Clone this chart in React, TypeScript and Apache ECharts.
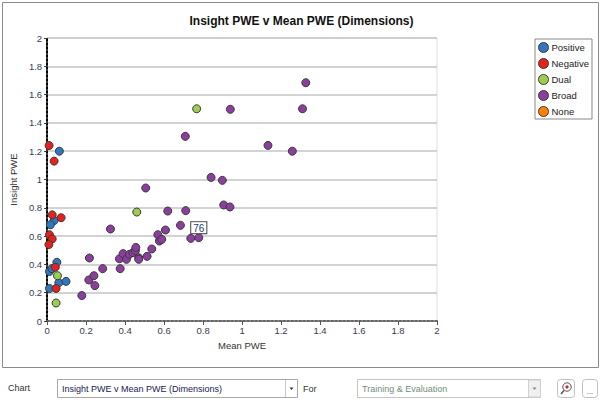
import React, { useEffect, useRef } from "react";
import * as echarts from "echarts";

const chartTitle = "Insight PWE v Mean PWE (Dimensions)";
const xAxisName = "Mean PWE";
const yAxisName = "Insight PWE";
const categories = ["Positive", "Negative", "Dual", "Broad", "None"];
const categoryColors = ["#2f78c0", "#e8201c", "#9ccc50", "#8c3e9e", "#ff8000"];

const positive: [number, number][] = [
  [0.063, 1.2], [0.036, 0.71], [0.017, 0.68], [0.05, 0.415], [0.012, 0.35],
  [0.025, 0.37], [0.06, 0.27], [0.097, 0.28], [0.012, 0.23],
];
const negative: [number, number][] = [
  [0.01, 1.24], [0.036, 1.13], [0.026, 0.75], [0.072, 0.73], [0.012, 0.61],
  [0.026, 0.58], [0.009, 0.54], [0.042, 0.38], [0.046, 0.23],
];
const dual: [number, number][] = [
  [0.053, 0.32], [0.046, 0.127], [0.46, 0.77], [0.767, 1.5],
];
const broad: [number, number][] = [
  [0.178, 0.18], [0.217, 0.445], [0.214, 0.29], [0.24, 0.32], [0.245, 0.25],
  [0.285, 0.37], [0.325, 0.65], [0.371, 0.44], [0.375, 0.37], [0.39, 0.476],
  [0.407, 0.436], [0.422, 0.471], [0.44, 0.483], [0.453, 0.497], [0.455, 0.52],
  [0.47, 0.447], [0.47, 0.436], [0.513, 0.457], [0.537, 0.509], [0.506, 0.94],
  [0.568, 0.61], [0.576, 0.565], [0.588, 0.577], [0.607, 0.643], [0.619, 0.777],
  [0.684, 0.676], [0.711, 0.78], [0.737, 0.584], [0.778, 0.589], [0.709, 1.305],
  [0.841, 1.015], [0.899, 0.994], [0.906, 0.82], [0.938, 0.806], [0.94, 1.496],
  [1.133, 1.241], [1.258, 1.2], [1.31, 1.5], [1.327, 1.684],
];
const none: [number, number][] = [];

const labelledPoint: [number, number] = [0.778, 0.589];
const labelledText = "76";

const chartSelectText = "Insight PWE v Mean PWE (Dimensions)";
const forSelectText = "Training & Evaluation";

const FONT = "Arial, 'Liberation Sans', sans-serif";

export default function App() {
  const ref = useRef<HTMLDivElement>(null);

  useEffect(() => {
    if (!ref.current) return;
    const chart = echarts.init(ref.current, undefined, { renderer: "svg" });
    const seriesData = [positive, negative, dual, broad, none];

    const series = categories.map((name, i) => ({
      name,
      type: "scatter",
      symbol: "circle",
      symbolSize: 8,
      itemStyle: { color: categoryColors[i], borderColor: "#3a3a3a", borderWidth: 1, opacity: 1 },
      data: seriesData[i].map((p) => {
        if (p[0] === labelledPoint[0] && p[1] === labelledPoint[1]) {
          return {
            value: p,
            label: {
              show: true,
              position: "top",
              distance: 0,
              formatter: labelledText,
              backgroundColor: "#fff",
              borderColor: "#444",
              borderWidth: 1,
              padding: [1, 2, 0, 2],
              fontSize: 10,
              fontFamily: FONT,
              color: "#1c3a70",
            },
          };
        }
        return p;
      }),
    }));

    const legendTop = 39;
    const rowH = 15;
    const sepLines = [1, 2, 3, 4].map((k) => ({
      type: "line",
      silent: true,
      shape: { x1: 535, y1: legendTop + rowH * k - 0.5, x2: 588, y2: legendTop + rowH * k - 0.5 },
      style: { stroke: "#9a9a9a", lineWidth: 1 },
    }));

    const option: any = {
      animation: false,
      backgroundColor: "#fff",
      title: {
        text: chartTitle,
        left: "center",
        top: 10,
        textStyle: { fontSize: 12, fontWeight: "bold", fontFamily: FONT, color: "#111" },
      },
      legend: {
        orient: "vertical",
        left: 535,
        top: legendTop,
        width: 53,
        padding: [3, 3, 2, 3],
        itemGap: 5,
        itemWidth: 10,
        itemHeight: 10,
        icon: "circle",
        backgroundColor: "#fff",
        borderColor: "#888",
        borderWidth: 1,
        textStyle: { fontSize: 9.5, fontFamily: FONT, color: "#222", padding: [0, 0, 0, -2] },
        data: categories,
        itemStyle: { borderColor: "#3a3a3a", borderWidth: 1 },
      },
      grid: {
        left: 47,
        top: 38,
        width: 390,
        height: 283,
        show: true,
        borderColor: "#dcdcdc",
        borderWidth: 1,
        backgroundColor: "transparent",
      },
      xAxis: {
        type: "value",
        min: 0,
        max: 2,
        interval: 0.2,
        name: xAxisName,
        nameLocation: "middle",
        nameGap: 19,
        nameTextStyle: { fontSize: 9.5, fontFamily: FONT, color: "#333" },
        axisLine: { show: true, lineStyle: { color: "#666", width: 2, type: "dotted" } },
        axisTick: { show: true, length: 4, lineStyle: { color: "#555", width: 1 } },
        axisLabel: { fontSize: 9.5, fontFamily: FONT, color: "#3a3a55", margin: 4 },
        splitLine: { show: false },
      },
      yAxis: {
        type: "value",
        min: 0,
        max: 2,
        interval: 0.2,
        name: yAxisName,
        nameLocation: "middle",
        nameGap: 23,
        nameTextStyle: { fontSize: 9.5, fontFamily: FONT, color: "#333" },
        axisLine: { show: true, lineStyle: { color: "#000", width: 2, type: "dotted" } },
        axisTick: { show: true, length: 3, lineStyle: { color: "#333", width: 1 } },
        axisLabel: { fontSize: 9.5, fontFamily: FONT, color: "#3a3a55", margin: 5 },
        splitLine: { show: true, lineStyle: { color: "#c4c4c4", width: 1.5 } },
      },
      series,
      graphic: [
        {
          type: "rect",
          silent: true,
          z: -10,
          shape: { x: 2.5, y: 2.5, width: 596, height: 365 },
          style: { fill: "transparent", stroke: "#8a8a8a", lineWidth: 1 },
        },
        ...sepLines,
        {
          type: "text",
          silent: true,
          x: 8,
          y: 388,
          style: { text: "Chart", fontSize: 9, fontFamily: FONT, fill: "#333", verticalAlign: "middle" },
        },
        {
          type: "rect",
          silent: true,
          shape: { x: 57.5, y: 379.5, width: 240, height: 18 },
          style: { fill: "#fff", stroke: "#a8a8a8", lineWidth: 1 },
        },
        {
          type: "line",
          silent: true,
          shape: { x1: 285.5, y1: 380, x2: 285.5, y2: 397 },
          style: { stroke: "#c8c8c8", lineWidth: 1 },
        },
        {
          type: "polygon",
          silent: true,
          shape: { points: [[289.5, 387.5], [293.5, 387.5], [291.5, 390]] },
          style: { fill: "#333" },
        },
        {
          type: "text",
          silent: true,
          x: 62,
          y: 388.5,
          style: { text: chartSelectText, fontSize: 9, fontFamily: FONT, fill: "#1a1a50", verticalAlign: "middle" },
        },
        {
          type: "text",
          silent: true,
          x: 303,
          y: 388.5,
          style: { text: "For", fontSize: 9, fontFamily: FONT, fill: "#333", verticalAlign: "middle" },
        },
        {
          type: "rect",
          silent: true,
          shape: { x: 357.5, y: 379.5, width: 183, height: 18 },
          style: { fill: "#fff", stroke: "#c4c4c4", lineWidth: 1 },
        },
        {
          type: "rect",
          silent: true,
          shape: { x: 528.5, y: 380, width: 12, height: 17 },
          style: { fill: "#f0f0f0", stroke: "#d0d0d0", lineWidth: 1 },
        },
        {
          type: "polygon",
          silent: true,
          shape: { points: [[532.5, 387.5], [536.5, 387.5], [534.5, 390]] },
          style: { fill: "#888" },
        },
        {
          type: "text",
          silent: true,
          x: 362,
          y: 388.5,
          style: { text: forSelectText, fontSize: 9, fontFamily: FONT, fill: "#6f8f78", verticalAlign: "middle" },
        },
        {
          type: "rect",
          silent: true,
          shape: { x: 557.5, y: 379.5, width: 17, height: 18, r: 3 },
          style: { fill: "#fff", stroke: "#c0c0c0", lineWidth: 1 },
        },
        {
          type: "circle",
          silent: true,
          shape: { cx: 567, cy: 387, r: 4.2 },
          style: { fill: "#fff", stroke: "#555", lineWidth: 1 },
        },
        {
          type: "circle",
          silent: true,
          shape: { cx: 567, cy: 387, r: 1.6 },
          style: { fill: "#e02020" },
        },
        {
          type: "line",
          silent: true,
          shape: { x1: 564, y1: 390.5, x2: 561, y2: 394 },
          style: { stroke: "#555", lineWidth: 1.5 },
        },
        {
          type: "rect",
          silent: true,
          shape: { x: 582.5, y: 379.5, width: 15, height: 18, r: 3 },
          style: { fill: "#fff", stroke: "#c0c0c0", lineWidth: 1 },
        },
        {
          type: "text",
          silent: true,
          x: 590,
          y: 391,
          style: { text: "...", fontSize: 8, fontFamily: FONT, fill: "#5a3a9a", align: "center", verticalAlign: "middle" },
        },
      ],
    };

    chart.setOption(option);
    return () => chart.dispose();
  }, []);

  return (
    <div
      ref={ref}
      style={{ position: "fixed", left: 0, top: 0, width: 603, height: 410, background: "#fff" }}
    />
  );
}
